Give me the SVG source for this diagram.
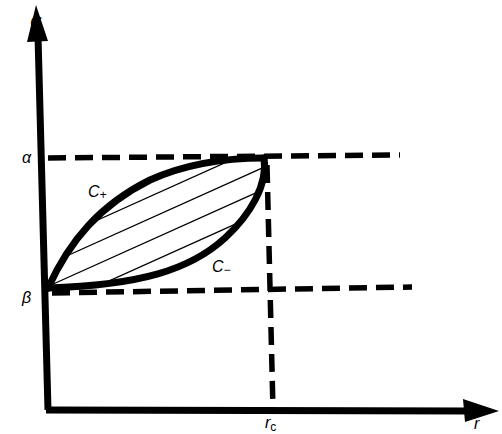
<svg xmlns="http://www.w3.org/2000/svg" width="502" height="434" viewBox="0 0 502 434">
<style>
.axis{stroke:#000;stroke-width:7;fill:none}
.dash{stroke:#000;stroke-width:5.5;fill:none;stroke-dasharray:18,9}
.curve{stroke:#000;stroke-width:7;fill:none;stroke-linejoin:round;stroke-linecap:round}
.hatch{stroke:#000;stroke-width:1.3}
.lbl{font-family:"Liberation Sans",Arial,sans-serif;font-style:italic;font-size:16px;fill:#000}
</style>
<defs>
<clipPath id="lens">
<path d="M48,288 C70,240 100,205 150,180 C190,162 230,158 264,158 C268,185 250,215 225,238 C190,270 140,285 48,288 Z"/>
</clipPath>
</defs>
<rect width="502" height="434" fill="#fff"/>
<g id="axes">
<line class="axis" x1="48" y1="410" x2="38" y2="36"/>
<polygon points="36,5 27,42 48,41" fill="#000"/>
<line class="axis" x1="46" y1="410" x2="470" y2="411"/>
<polygon points="499,411 463,399 465,422" fill="#000"/>
</g>
<g id="guides">
<line class="dash" x1="48" y1="158" x2="400" y2="155"/>
<line class="dash" x1="52" y1="293" x2="412" y2="287"/>
<line class="dash" x1="267" y1="165" x2="273" y2="410"/>
</g>
<g id="region">
<g clip-path="url(#lens)">
<line class="hatch" x1="0" y1="220" x2="400" y2="40"/>
<line class="hatch" x1="0" y1="242" x2="400" y2="62"/>
<line class="hatch" x1="0" y1="264" x2="400" y2="84"/>
<line class="hatch" x1="0" y1="286" x2="400" y2="106"/>
<line class="hatch" x1="0" y1="308" x2="400" y2="128"/>
<line class="hatch" x1="0" y1="330" x2="400" y2="150"/>
<line class="hatch" x1="0" y1="352" x2="400" y2="172"/>
<line class="hatch" x1="0" y1="374" x2="400" y2="194"/>
<line class="hatch" x1="0" y1="396" x2="400" y2="216"/>
<line class="hatch" x1="0" y1="418" x2="400" y2="238"/>
</g>
<path id="cplus" class="curve" d="M48,288 C70,240 100,205 150,180 C190,162 230,158 264,158"/>
<path id="cminus" class="curve" d="M48,288 C140,285 190,270 225,238 C250,215 268,185 264,158"/>
</g>
<g id="labels">
<text class="lbl" x="30" y="28">C</text>
<text class="lbl" x="22" y="163" font-style="normal">α</text>
<text class="lbl" x="22" y="303">β</text>
<text class="lbl" x="88" y="197">C<tspan font-size="12" dy="2">+</tspan></text>
<text class="lbl" x="212" y="272">C<tspan font-size="12" dy="2">−</tspan></text>
<text class="lbl" x="265" y="428">r<tspan font-size="12" dy="3" font-style="normal">c</tspan></text>
<text class="lbl" x="474" y="429">r</text>
</g>
</svg>
